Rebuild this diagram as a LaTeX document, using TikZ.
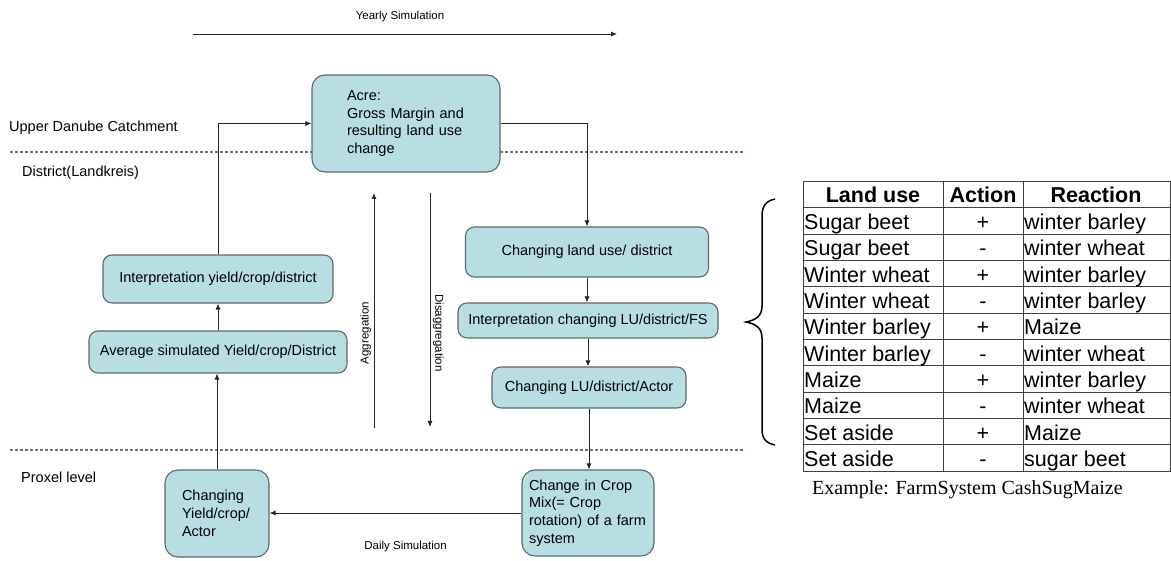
\documentclass[tikz,border=0pt]{standalone}
\usepackage{fontspec}
\setmainfont{Liberation Sans}
\newfontfamily\capfont{Liberation Serif}
\usetikzlibrary{arrows.meta}
\definecolor{boxfill}{RGB}{183,222,227}
\definecolor{boxline}{RGB}{95,105,108}
\definecolor{dashgray}{RGB}{115,115,115}
\begin{document}
\begin{tikzpicture}[x=1pt,y=-1pt,
  box/.style={draw=boxline, fill=boxfill, line width=1.1pt, rounded corners=9pt,
    font=\fontsize{14.5}{17.5}\selectfont, align=center, inner sep=0pt},
  arr/.style={draw=black!85, line width=0.8pt, -{Latex[length=6pt,width=5pt]}},
  lvl/.style={anchor=west, inner sep=0pt, font=\fontsize{14.5}{17}\selectfont},
  small/.style={font=\fontsize{11.5}{13}\selectfont},
  level/.style={draw=dashgray, line width=1.1pt, dash pattern=on 3pt off 2pt},
  tline/.style={draw=black!75, line width=1pt},
  tcell/.style={inner sep=0pt, font=\fontsize{21.5}{24}\selectfont},
  thead/.style={inner sep=0pt, font=\fontsize{21.5}{24}\selectfont\bfseries},
  curly/.style={draw=black, line width=1.5pt}
]
\useasboundingbox (0,0) rectangle (1171,561);

% level separators
\coordinate (d1a) at (10,152); \coordinate (d1b) at (745,152);
\coordinate (d2a) at (10,450); \coordinate (d2b) at (745,450);
\draw[level] (d1a) -- (d1b);
\draw[level] (d2a) -- (d2b);

% level labels
\node[lvl] (udc) at (9,128) {Upper Danube Catchment};
\node[lvl] (dist) at (22,173) {District(Landkreis)};
\node[lvl] (prox) at (21,477) {Proxel level};

% yearly simulation
\node[small] (yearly) at (400,17) {Yearly Simulation};
\coordinate (ys1) at (193,34); \coordinate (ys2) at (617,34);
\draw[arr] (ys1) -- (ys2);

% boxes
\node[box, rounded corners=13pt, minimum height=97pt, text width=118pt, inner xsep=35pt, align=left] (acre) at (406,123.5)
  {Acre:\\Gross Margin and\\resulting land use\\change};
\node[box, minimum width=230pt, minimum height=48pt] (iy) at (218,279) {Interpretation yield/crop/district};
\node[box, minimum width=258pt, minimum height=42pt] (avg) at (218,352) {Average simulated Yield/crop/District};
\node[box, rounded corners=13pt, minimum height=87pt, text width=70pt, inner xsep=17pt, align=left,
  font=\fontsize{14.5}{18}\selectfont] (cy) at (217,513.5) {Changing\\Yield/crop/\\Actor};
\node[box, minimum width=243pt, minimum height=50pt] (clu) at (587,252) {Changing land use/ district};
\node[box, minimum width=260pt, minimum height=35pt] (iclu) at (588,320.5) {Interpretation changing LU/district/FS};
\node[box, minimum width=194pt, minimum height=41pt] (clua) at (589,387.5) {Changing LU/district/Actor};
\node[box, rounded corners=13pt, minimum height=86pt, text width=118pt, inner xsep=7pt, align=left,
  font=\fontsize{14.5}{17.7}\selectfont] (crop) at (588,513) {Change in Crop\\Mix(= Crop\\rotation) of a farm\\system};

% connectors
\draw[arr] (iy.north) |- (acre.west);
\draw[arr] (acre.east) -| (clu.north);
\draw[arr] (clu.south) -- (clu.south |- iclu.north);
\draw[arr] (iclu.south) -- (iclu.south |- clua.north);
\draw[arr] (clua.south) -- (clua.south |- crop.north);
\draw[arr] (crop.west) -- node[small, pos=0.46, below=24pt] (daily) {Daily Simulation} (crop.west -| cy.east);
\draw[arr] (cy.north) -- (cy.north |- avg.south);
\draw[arr] (avg.north) -- (iy.south);

% aggregation / disaggregation
\coordinate (ag1) at (374,428); \coordinate (ag2) at (374,193);
\coordinate (dg1) at (430,193); \coordinate (dg2) at (430,427);
\draw[arr] (ag1) -- node[small, sloped, above, pos=0.404, inner sep=2.5pt] (aglab) {Aggregation} (ag2);
\draw[arr] (dg1) -- node[small, sloped, above, pos=0.598, inner sep=2.5pt] (dglab) {Disaggregation} (dg2);

% brace
\draw[curly] (775,199) .. controls (766,201) and (762,206) .. (762,216) -- (762,306)
  .. controls (762,316) and (756,320) .. (746,322)
  .. controls (756,324) and (762,328) .. (762,338) -- (762,429)
  .. controls (762,439) and (766,443) .. (775,445);

% table
\draw[tline] (803,182) rectangle (1170,471);
\draw[tline] (943,182) -- (943,471);
\draw[tline] (1023,182) -- (1023,471);
\foreach \k in {0,...,9} {
  \draw[tline] (803,{208+26.3*\k}) -- (1170,{208+26.3*\k});
}
\node[thead, anchor=base] (h1) at (873,203) {Land use};
\node[thead, anchor=base] (h2) at (983,203) {Action};
\node[thead, anchor=base] (h3) at (1096,203) {Reaction};
\foreach \a/\b/\c [count=\i] in {Sugar beet/+/winter barley, Sugar beet/-/winter wheat,
  Winter wheat/+/winter barley, Winter wheat/-/winter barley, Winter barley/+/Maize,
  Winter barley/-/winter wheat, Maize/+/winter barley, Maize/-/winter wheat,
  Set aside/+/Maize, Set aside/-/sugar beet} {
  \pgfmathsetmacro\yy{208+26.3*(\i-0.5)+8.5}
  \node[tcell, anchor=base west] (r\i a) at (804,\yy) {\a};
  \node[tcell, anchor=base] (r\i b) at (983,\yy) {\b};
  \node[tcell, anchor=base west] (r\i c) at (1024,\yy) {\c};
}
\node[anchor=base west, inner sep=0pt, font=\capfont\fontsize{20}{22}\selectfont] (caption) at (812,494.5)
  {Example: FarmSystem CashSugMaize};
\end{tikzpicture}
\end{document}
